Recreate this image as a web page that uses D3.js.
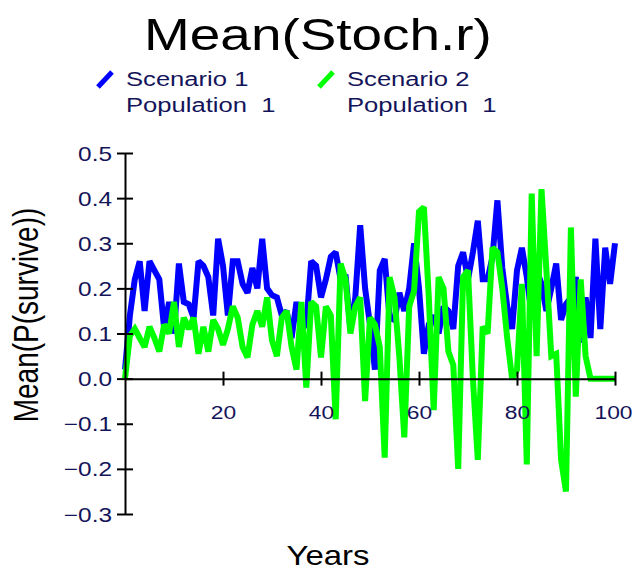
<!DOCTYPE html>
<html>
<head>
<meta charset="utf-8">
<script src="https://cdn.jsdelivr.net/npm/d3@7"></script>
<style>
  html, body { margin: 0; padding: 0; background: #fff; }
  svg { display: block; }
  text { font-family: "Liberation Sans", Arial, sans-serif; white-space: pre; }
</style>
</head>
<body>
<svg id="chart" width="635" height="570"></svg>
<script>
// Mean stochastic r per year, two scenarios
const years = d3.range(0, 101);

const scenario1 = [
  0.02, 0.14, 0.22, 0.26, 0.15, 0.26, 0.24, 0.22, 0.11, 0.17,
  0.10, 0.255, 0.17, 0.165, 0.135, 0.26, 0.25, 0.225, 0.14, 0.31,
  0.25, 0.14, 0.26, 0.26, 0.21, 0.19, 0.245, 0.20, 0.31, 0.20,
  0.185, 0.18, 0.14, 0.15, 0.09, 0.17, 0.11, 0.12, 0.26, 0.25,
  0.18, 0.22, 0.27, 0.28, 0.22, 0.23, 0.11, 0.18, 0.34, 0.20,
  0.12, 0.02, 0.24, 0.265, 0.135, 0.13, 0.19, 0.15, 0.20, 0.30,
  0.20, 0.055, 0.12, 0.14, 0.10, 0.16, 0.15, 0.11, 0.25, 0.28,
  0.22, 0.28, 0.35, 0.22, 0.22, 0.27, 0.395, 0.245, 0.16, 0.11,
  0.24, 0.29, 0.225, 0.14, 0.24, 0.21, 0.15, 0.20, 0.255, 0.13,
  0.165, 0.18, 0.225, 0.08, 0.18, 0.09, 0.31, 0.11, 0.29, 0.21,
  0.30
];

const scenario2 = [
  0.00, 0.095, 0.11, 0.09, 0.07, 0.115, 0.09, 0.06, 0.12, 0.10,
  0.17, 0.07, 0.135, 0.11, 0.135, 0.055, 0.115, 0.06, 0.13, 0.11,
  0.075, 0.11, 0.16, 0.135, 0.07, 0.047, 0.12, 0.15, 0.115, 0.18,
  0.085, 0.05, 0.135, 0.15, 0.07, 0.02, 0.17, -0.02, 0.17, 0.16,
  0.047, 0.16, 0.14, -0.09, 0.255, 0.22, 0.10, 0.16, 0.18, -0.05,
  0.135, 0.12, 0.07, -0.175, 0.225, 0.18, 0.047, -0.13, 0.16, 0.195,
  0.37, 0.38, 0.18, -0.07, 0.225, 0.20, 0.06, 0.03, -0.20, 0.225,
  0.24, 0.00, -0.18, 0.115, 0.10, 0.29, 0.28, 0.20, 0.09, 0.00,
  0.02, 0.21, -0.19, 0.41, 0.05, 0.42, 0.24, 0.05, 0.055, -0.18,
  -0.25, 0.335, -0.04, 0.22, 0.05, 0.00, 0.00, 0.00, 0.00, 0.00,
  0.00
];

const xTicks = [20, 40, 60, 80, 100];
const yTicks = [-0.3, -0.2, -0.1, 0.0, 0.1, 0.2, 0.3, 0.4, 0.5];

const series = [
  { name: "Scenario 1", sub: "Population  1", color: "#0000ff", values: scenario1 },
  { name: "Scenario 2", sub: "Population  1", color: "#00ff00", values: scenario2 }
];

const svg = d3.select("#chart");
const stretch = 1.22;   // wide glyphs used throughout the chart

const x = d3.scaleLinear().domain([0, 100]).range([125, 615]);
const y = d3.scaleLinear().domain([-0.3, 0.5]).range([514, 153]);

// title
svg.append("text")
  .attr("transform", `translate(318,50) scale(${stretch},1)`)
  .attr("text-anchor", "middle")
  .attr("font-size", 45)
  .attr("fill", "#000")
  .text("Mean(Stoch.r)");

// legend
const legendX = [97, 318];
series.forEach((s, i) => {
  const g = svg.append("g").attr("transform", `translate(${legendX[i]},0)`);
  g.append("line")
    .attr("x1", 1).attr("y1", 87).attr("x2", 15).attr("y2", 72)
    .attr("stroke", s.color).attr("stroke-width", 5);
  g.append("text")
    .attr("transform", `translate(29,86) scale(${stretch},1)`)
    .attr("font-size", 21).attr("fill", "#14145a")
    .text(s.name);
  g.append("text")
    .attr("transform", `translate(29,112) scale(${stretch},1)`)
    .attr("font-size", 21).attr("fill", "#14145a")
    .text(s.sub);
});

// series lines (scenario 2 drawn over scenario 1)
const line = d3.line()
  .x((d, i) => x(years[i]))
  .y(d => y(d));

series.forEach(s => {
  svg.append("path")
    .datum(s.values)
    .attr("fill", "none")
    .attr("stroke", s.color)
    .attr("stroke-width", 6)
    .attr("stroke-linejoin", "miter")
    .attr("stroke-miterlimit", 2)
    .attr("d", line);
});

// y axis
const yAxis = d3.axisLeft(y).tickValues(yTicks).tickSize(0).tickFormat(d3.format(".1f"));
const gy = svg.append("g").attr("transform", `translate(${x(0)},0)`).call(yAxis);
gy.select(".domain").attr("stroke", "#000").attr("stroke-width", 2);
gy.selectAll(".tick line").remove();
gy.selectAll(".tick").append("line")
  .attr("x1", -8).attr("x2", 8).attr("stroke", "#000").attr("stroke-width", 2);
gy.selectAll(".tick text")
  .attr("x", null).attr("dy", null)
  .attr("font-size", 20).attr("fill", "#14145a")
  .attr("font-family", "Liberation Sans, Arial, sans-serif")
  .attr("text-anchor", "end")
  .attr("transform", `translate(-13,7) scale(${stretch},1)`);

// x axis along zero
const xAxis = d3.axisBottom(x).tickValues(xTicks).tickSize(0).tickFormat(d3.format("d"));
const gx = svg.append("g").attr("transform", `translate(0,${y(0)})`).call(xAxis);
gx.select(".domain").attr("stroke", "#000").attr("stroke-width", 2);
gx.selectAll(".tick line").remove();
gx.selectAll(".tick").append("line")
  .attr("y1", -7).attr("y2", 7).attr("stroke", "#000").attr("stroke-width", 2);
gx.selectAll(".tick text")
  .attr("y", null).attr("dy", null)
  .attr("font-size", 19).attr("fill", "#14145a")
  .attr("font-family", "Liberation Sans, Arial, sans-serif")
  .attr("text-anchor", "middle")
  .attr("transform", d => `translate(${d === 100 ? -2 : 0},40) scale(1.2,1)`);

// axis titles
svg.append("text")
  .attr("transform", `translate(38,315) rotate(-90) scale(1,${stretch})`)
  .attr("text-anchor", "middle")
  .attr("font-size", 28).attr("fill", "#000")
  .text("Mean(P(survive))");

svg.append("text")
  .attr("transform", `translate(328,565) scale(${stretch},1)`)
  .attr("text-anchor", "middle")
  .attr("font-size", 27).attr("fill", "#000")
  .text("Years");
</script>
</body>
</html>
